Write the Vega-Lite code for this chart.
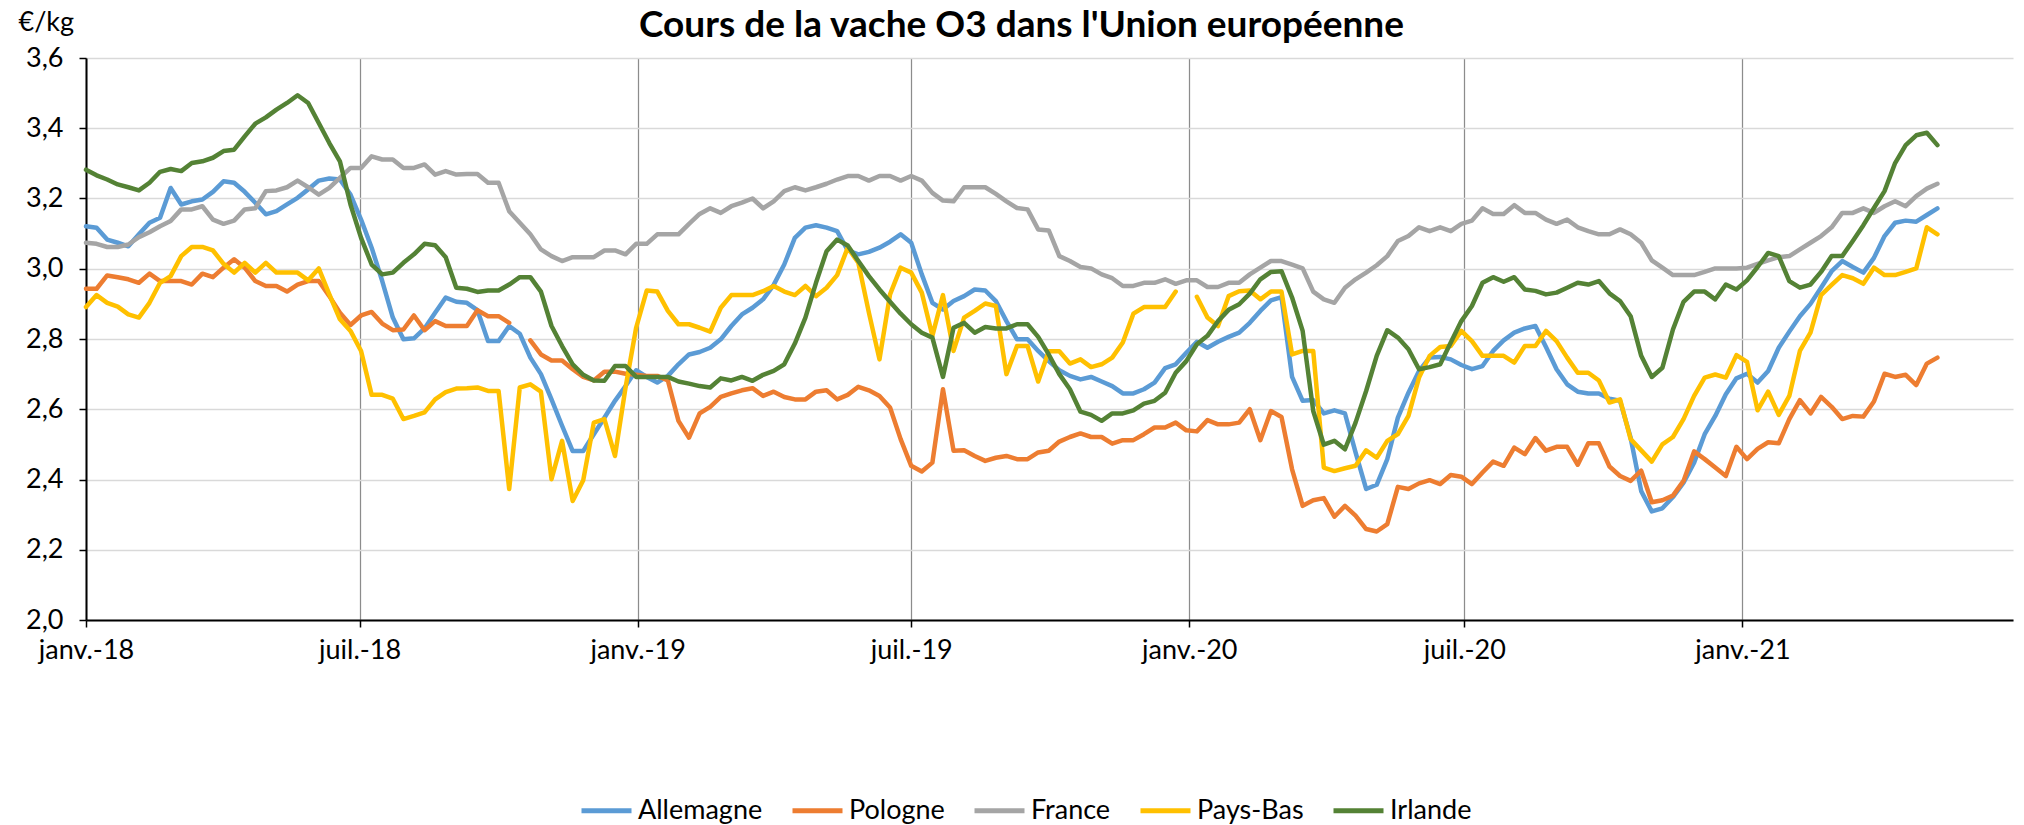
{
"$schema": "https://vega.github.io/schema/vega-lite/v6.json",
"width": 1927, "height": 562,
"autosize": {"type": "none"},
"padding": {"left": 86, "top": 58, "right": 11, "bottom": 205},
"background": "white",
"title": {"text": "Cours de la vache O3 dans l'Union européenne", "font": "Lato", "fontSize": 37, "fontWeight": "bold", "color": "#000000", "anchor": "middle", "frame": "group", "dx": -28, "dy": 41},
"data": {"values": [
{"d":"2018-01-01","Allemagne":3.121,"Pologne":2.943,"France":3.074,"Pays-Bas":2.891,"Irlande":3.282},
{"d":"2018-01-08","Allemagne":3.117,"Pologne":2.943,"France":3.071,"Pays-Bas":2.925,"Irlande":3.266},
{"d":"2018-01-15","Allemagne":3.083,"Pologne":2.981,"France":3.062,"Pays-Bas":2.903,"Irlande":3.254},
{"d":"2018-01-22","Allemagne":3.074,"Pologne":2.976,"France":3.062,"Pays-Bas":2.892,"Irlande":3.240},
{"d":"2018-01-29","Allemagne":3.064,"Pologne":2.970,"France":3.069,"Pays-Bas":2.870,"Irlande":3.232},
{"d":"2018-02-05","Allemagne":3.098,"Pologne":2.960,"France":3.090,"Pays-Bas":2.861,"Irlande":3.223},
{"d":"2018-02-12","Allemagne":3.131,"Pologne":2.986,"France":3.104,"Pays-Bas":2.903,"Irlande":3.245},
{"d":"2018-02-19","Allemagne":3.145,"Pologne":2.965,"France":3.121,"Pays-Bas":2.960,"Irlande":3.276},
{"d":"2018-02-26","Allemagne":3.230,"Pologne":2.965,"France":3.136,"Pays-Bas":2.979,"Irlande":3.284},
{"d":"2018-03-05","Allemagne":3.183,"Pologne":2.965,"France":3.169,"Pays-Bas":3.036,"Irlande":3.278},
{"d":"2018-03-12","Allemagne":3.192,"Pologne":2.955,"France":3.169,"Pays-Bas":3.062,"Irlande":3.301},
{"d":"2018-03-19","Allemagne":3.197,"Pologne":2.986,"France":3.178,"Pays-Bas":3.062,"Irlande":3.306},
{"d":"2018-03-26","Allemagne":3.219,"Pologne":2.976,"France":3.140,"Pays-Bas":3.052,"Irlande":3.316},
{"d":"2018-04-02","Allemagne":3.249,"Pologne":3.003,"France":3.128,"Pays-Bas":3.014,"Irlande":3.335},
{"d":"2018-04-09","Allemagne":3.245,"Pologne":3.027,"France":3.137,"Pays-Bas":2.989,"Irlande":3.339},
{"d":"2018-04-16","Allemagne":3.219,"Pologne":3.003,"France":3.169,"Pays-Bas":3.017,"Irlande":3.377},
{"d":"2018-04-23","Allemagne":3.188,"Pologne":2.965,"France":3.172,"Pays-Bas":2.989,"Irlande":3.413},
{"d":"2018-04-30","Allemagne":3.155,"Pologne":2.951,"France":3.221,"Pays-Bas":3.017,"Irlande":3.431},
{"d":"2018-05-07","Allemagne":3.164,"Pologne":2.951,"France":3.223,"Pays-Bas":2.989,"Irlande":3.453},
{"d":"2018-05-14","Allemagne":3.183,"Pologne":2.935,"France":3.232,"Pays-Bas":2.989,"Irlande":3.472},
{"d":"2018-05-21","Allemagne":3.202,"Pologne":2.955,"France":3.251,"Pays-Bas":2.989,"Irlande":3.494},
{"d":"2018-05-28","Allemagne":3.226,"Pologne":2.965,"France":3.232,"Pays-Bas":2.967,"Irlande":3.472},
{"d":"2018-06-04","Allemagne":3.251,"Pologne":2.965,"France":3.211,"Pays-Bas":3.001,"Irlande":3.415},
{"d":"2018-06-11","Allemagne":3.257,"Pologne":2.922,"France":3.230,"Pays-Bas":2.927,"Irlande":3.358},
{"d":"2018-06-18","Allemagne":3.254,"Pologne":2.875,"France":3.259,"Pays-Bas":2.856,"Irlande":3.306},
{"d":"2018-06-25","Allemagne":3.211,"Pologne":2.840,"France":3.287,"Pays-Bas":2.823,"Irlande":3.183},
{"d":"2018-07-02","Allemagne":3.140,"Pologne":2.867,"France":3.287,"Pays-Bas":2.766,"Irlande":3.088},
{"d":"2018-07-09","Allemagne":3.060,"Pologne":2.877,"France":3.320,"Pays-Bas":2.641,"Irlande":3.012},
{"d":"2018-07-16","Allemagne":2.965,"Pologne":2.844,"France":3.311,"Pays-Bas":2.641,"Irlande":2.984},
{"d":"2018-07-23","Allemagne":2.861,"Pologne":2.825,"France":3.311,"Pays-Bas":2.630,"Irlande":2.989},
{"d":"2018-07-30","Allemagne":2.799,"Pologne":2.827,"France":3.287,"Pays-Bas":2.572,"Irlande":3.017},
{"d":"2018-08-06","Allemagne":2.802,"Pologne":2.867,"France":3.287,"Pays-Bas":2.581,"Irlande":3.041},
{"d":"2018-08-13","Allemagne":2.830,"Pologne":2.825,"France":3.297,"Pays-Bas":2.591,"Irlande":3.071},
{"d":"2018-08-20","Allemagne":2.875,"Pologne":2.851,"France":3.268,"Pays-Bas":2.628,"Irlande":3.067},
{"d":"2018-08-27","Allemagne":2.918,"Pologne":2.837,"France":3.278,"Pays-Bas":2.649,"Irlande":3.033},
{"d":"2018-09-03","Allemagne":2.906,"Pologne":2.837,"France":3.268,"Pays-Bas":2.659,"Irlande":2.946},
{"d":"2018-09-10","Allemagne":2.903,"Pologne":2.837,"France":3.270,"Pays-Bas":2.660,"Irlande":2.943},
{"d":"2018-09-17","Allemagne":2.882,"Pologne":2.882,"France":3.270,"Pays-Bas":2.662,"Irlande":2.934},
{"d":"2018-09-24","Allemagne":2.794,"Pologne":2.865,"France":3.245,"Pays-Bas":2.652,"Irlande":2.938},
{"d":"2018-10-01","Allemagne":2.794,"Pologne":2.865,"France":3.245,"Pays-Bas":2.652,"Irlande":2.938},
{"d":"2018-10-08","Allemagne":2.837,"Pologne":2.846,"France":3.164,"Pays-Bas":2.373,"Irlande":2.955},
{"d":"2018-10-15","Allemagne":2.815,"Pologne":null,"France":3.131,"Pays-Bas":2.662,"Irlande":2.976},
{"d":"2018-10-22","Allemagne":2.747,"Pologne":2.796,"France":3.098,"Pays-Bas":2.671,"Irlande":2.976},
{"d":"2018-10-29","Allemagne":2.700,"Pologne":2.756,"France":3.055,"Pays-Bas":2.650,"Irlande":2.935},
{"d":"2018-11-05","Allemagne":2.628,"Pologne":2.739,"France":3.036,"Pays-Bas":2.401,"Irlande":2.837},
{"d":"2018-11-12","Allemagne":2.553,"Pologne":2.739,"France":3.022,"Pays-Bas":2.510,"Irlande":2.780},
{"d":"2018-11-19","Allemagne":2.481,"Pologne":2.714,"France":3.033,"Pays-Bas":2.339,"Irlande":2.728},
{"d":"2018-11-26","Allemagne":2.481,"Pologne":2.692,"France":3.033,"Pays-Bas":2.398,"Irlande":2.698},
{"d":"2018-12-03","Allemagne":2.529,"Pologne":2.682,"France":3.033,"Pays-Bas":2.562,"Irlande":2.682},
{"d":"2018-12-10","Allemagne":2.576,"Pologne":2.707,"France":3.052,"Pays-Bas":2.572,"Irlande":2.681},
{"d":"2018-12-17","Allemagne":2.624,"Pologne":2.707,"France":3.052,"Pays-Bas":2.467,"Irlande":2.723},
{"d":"2018-12-24","Allemagne":2.666,"Pologne":2.701,"France":3.041,"Pays-Bas":2.662,"Irlande":2.723},
{"d":"2018-12-31","Allemagne":2.711,"Pologne":2.698,"France":3.071,"Pays-Bas":2.832,"Irlande":2.692},
{"d":"2019-01-07","Allemagne":2.692,"Pologne":2.695,"France":3.071,"Pays-Bas":2.938,"Irlande":2.692},
{"d":"2019-01-14","Allemagne":2.676,"Pologne":2.695,"France":3.098,"Pays-Bas":2.935,"Irlande":2.692},
{"d":"2019-01-21","Allemagne":2.695,"Pologne":2.682,"France":3.098,"Pays-Bas":2.880,"Irlande":2.692},
{"d":"2019-01-28","Allemagne":2.728,"Pologne":2.567,"France":3.098,"Pays-Bas":2.842,"Irlande":2.679},
{"d":"2019-02-04","Allemagne":2.756,"Pologne":2.519,"France":3.128,"Pays-Bas":2.842,"Irlande":2.673},
{"d":"2019-02-11","Allemagne":2.763,"Pologne":2.588,"France":3.156,"Pays-Bas":2.832,"Irlande":2.666},
{"d":"2019-02-18","Allemagne":2.775,"Pologne":2.607,"France":3.172,"Pays-Bas":2.821,"Irlande":2.662},
{"d":"2019-02-25","Allemagne":2.799,"Pologne":2.635,"France":3.159,"Pays-Bas":2.889,"Irlande":2.688},
{"d":"2019-03-04","Allemagne":2.837,"Pologne":2.645,"France":3.178,"Pays-Bas":2.925,"Irlande":2.682},
{"d":"2019-03-11","Allemagne":2.870,"Pologne":2.654,"France":3.188,"Pays-Bas":2.925,"Irlande":2.692},
{"d":"2019-03-18","Allemagne":2.889,"Pologne":2.660,"France":3.200,"Pays-Bas":2.925,"Irlande":2.681},
{"d":"2019-03-25","Allemagne":2.913,"Pologne":2.638,"France":3.172,"Pays-Bas":2.936,"Irlande":2.698},
{"d":"2019-04-01","Allemagne":2.954,"Pologne":2.650,"France":3.192,"Pays-Bas":2.951,"Irlande":2.709},
{"d":"2019-04-08","Allemagne":3.012,"Pologne":2.635,"France":3.221,"Pays-Bas":2.935,"Irlande":2.728},
{"d":"2019-04-15","Allemagne":3.088,"Pologne":2.628,"France":3.232,"Pays-Bas":2.925,"Irlande":2.787},
{"d":"2019-04-22","Allemagne":3.117,"Pologne":2.628,"France":3.223,"Pays-Bas":2.951,"Irlande":2.861},
{"d":"2019-04-29","Allemagne":3.124,"Pologne":2.650,"France":3.232,"Pays-Bas":2.922,"Irlande":2.960},
{"d":"2019-05-06","Allemagne":3.117,"Pologne":2.654,"France":3.242,"Pays-Bas":2.946,"Irlande":3.050},
{"d":"2019-05-13","Allemagne":3.107,"Pologne":2.628,"France":3.254,"Pays-Bas":2.982,"Irlande":3.083},
{"d":"2019-05-20","Allemagne":3.052,"Pologne":2.641,"France":3.264,"Pays-Bas":3.060,"Irlande":3.066},
{"d":"2019-05-27","Allemagne":3.041,"Pologne":2.664,"France":3.264,"Pays-Bas":3.017,"Irlande":3.022},
{"d":"2019-06-03","Allemagne":3.048,"Pologne":2.654,"France":3.251,"Pays-Bas":2.875,"Irlande":2.979},
{"d":"2019-06-10","Allemagne":3.060,"Pologne":2.638,"France":3.264,"Pays-Bas":2.742,"Irlande":2.941},
{"d":"2019-06-17","Allemagne":3.077,"Pologne":2.605,"France":3.264,"Pays-Bas":2.927,"Irlande":2.906},
{"d":"2019-06-24","Allemagne":3.098,"Pologne":2.515,"France":3.251,"Pays-Bas":3.003,"Irlande":2.872},
{"d":"2019-07-01","Allemagne":3.074,"Pologne":2.439,"France":3.264,"Pays-Bas":2.989,"Irlande":2.842},
{"d":"2019-07-08","Allemagne":2.984,"Pologne":2.423,"France":3.251,"Pays-Bas":2.932,"Irlande":2.818},
{"d":"2019-07-15","Allemagne":2.903,"Pologne":2.448,"France":3.216,"Pays-Bas":2.809,"Irlande":2.804},
{"d":"2019-07-22","Allemagne":2.884,"Pologne":2.657,"France":3.194,"Pays-Bas":2.925,"Irlande":2.692},
{"d":"2019-07-29","Allemagne":2.908,"Pologne":2.482,"France":3.192,"Pays-Bas":2.766,"Irlande":2.832},
{"d":"2019-08-05","Allemagne":2.922,"Pologne":2.483,"France":3.232,"Pays-Bas":2.861,"Irlande":2.846},
{"d":"2019-08-12","Allemagne":2.941,"Pologne":2.467,"France":3.232,"Pays-Bas":2.880,"Irlande":2.818},
{"d":"2019-08-19","Allemagne":2.938,"Pologne":2.453,"France":3.232,"Pays-Bas":2.901,"Irlande":2.834},
{"d":"2019-08-26","Allemagne":2.908,"Pologne":2.462,"France":3.213,"Pays-Bas":2.894,"Irlande":2.830},
{"d":"2019-09-02","Allemagne":2.851,"Pologne":2.467,"France":3.192,"Pays-Bas":2.700,"Irlande":2.830},
{"d":"2019-09-09","Allemagne":2.799,"Pologne":2.458,"France":3.173,"Pays-Bas":2.780,"Irlande":2.842},
{"d":"2019-09-16","Allemagne":2.799,"Pologne":2.458,"France":3.169,"Pays-Bas":2.780,"Irlande":2.842},
{"d":"2019-09-23","Allemagne":2.766,"Pologne":2.477,"France":3.112,"Pays-Bas":2.679,"Irlande":2.806},
{"d":"2019-09-30","Allemagne":2.737,"Pologne":2.482,"France":3.109,"Pays-Bas":2.765,"Irlande":2.756},
{"d":"2019-10-07","Allemagne":2.711,"Pologne":2.508,"France":3.036,"Pays-Bas":2.765,"Irlande":2.700},
{"d":"2019-10-14","Allemagne":2.695,"Pologne":2.521,"France":3.022,"Pays-Bas":2.730,"Irlande":2.657},
{"d":"2019-10-21","Allemagne":2.685,"Pologne":2.531,"France":3.005,"Pays-Bas":2.742,"Irlande":2.593},
{"d":"2019-10-28","Allemagne":2.692,"Pologne":2.521,"France":3.001,"Pays-Bas":2.720,"Irlande":2.584},
{"d":"2019-11-04","Allemagne":2.679,"Pologne":2.521,"France":2.984,"Pays-Bas":2.728,"Irlande":2.567},
{"d":"2019-11-11","Allemagne":2.666,"Pologne":2.502,"France":2.973,"Pays-Bas":2.747,"Irlande":2.588},
{"d":"2019-11-18","Allemagne":2.645,"Pologne":2.512,"France":2.951,"Pays-Bas":2.790,"Irlande":2.588},
{"d":"2019-11-25","Allemagne":2.645,"Pologne":2.512,"France":2.951,"Pays-Bas":2.872,"Irlande":2.597},
{"d":"2019-12-02","Allemagne":2.657,"Pologne":2.529,"France":2.960,"Pays-Bas":2.891,"Irlande":2.616},
{"d":"2019-12-09","Allemagne":2.676,"Pologne":2.548,"France":2.960,"Pays-Bas":2.891,"Irlande":2.624},
{"d":"2019-12-16","Allemagne":2.717,"Pologne":2.548,"France":2.970,"Pays-Bas":2.891,"Irlande":2.647},
{"d":"2019-12-23","Allemagne":2.728,"Pologne":2.562,"France":2.957,"Pays-Bas":2.935,"Irlande":2.704},
{"d":"2019-12-30","Allemagne":2.761,"Pologne":2.540,"France":2.967,"Pays-Bas":null,"Irlande":2.737},
{"d":"2020-01-06","Allemagne":2.792,"Pologne":2.537,"France":2.967,"Pays-Bas":2.920,"Irlande":2.785},
{"d":"2020-01-13","Allemagne":2.775,"Pologne":2.569,"France":2.948,"Pays-Bas":2.861,"Irlande":2.809},
{"d":"2020-01-20","Allemagne":2.792,"Pologne":2.557,"France":2.948,"Pays-Bas":2.837,"Irlande":2.851},
{"d":"2020-01-27","Allemagne":2.806,"Pologne":2.557,"France":2.960,"Pays-Bas":2.922,"Irlande":2.883},
{"d":"2020-02-03","Allemagne":2.818,"Pologne":2.562,"France":2.960,"Pays-Bas":2.936,"Irlande":2.899},
{"d":"2020-02-10","Allemagne":2.846,"Pologne":2.600,"France":2.984,"Pays-Bas":2.938,"Irlande":2.929},
{"d":"2020-02-17","Allemagne":2.880,"Pologne":2.512,"France":3.003,"Pays-Bas":2.913,"Irlande":2.970},
{"d":"2020-02-24","Allemagne":2.910,"Pologne":2.595,"France":3.022,"Pays-Bas":2.935,"Irlande":2.991},
{"d":"2020-03-02","Allemagne":2.919,"Pologne":2.578,"France":3.022,"Pays-Bas":2.935,"Irlande":2.993},
{"d":"2020-03-09","Allemagne":2.692,"Pologne":2.429,"France":3.012,"Pays-Bas":2.756,"Irlande":2.918},
{"d":"2020-03-16","Allemagne":2.624,"Pologne":2.325,"France":3.001,"Pays-Bas":2.766,"Irlande":2.823},
{"d":"2020-03-23","Allemagne":2.626,"Pologne":2.341,"France":2.935,"Pays-Bas":2.766,"Irlande":2.595},
{"d":"2020-03-30","Allemagne":2.588,"Pologne":2.347,"France":2.913,"Pays-Bas":2.434,"Irlande":2.499},
{"d":"2020-04-06","Allemagne":2.597,"Pologne":2.294,"France":2.903,"Pays-Bas":2.424,"Irlande":2.510},
{"d":"2020-04-13","Allemagne":2.588,"Pologne":2.325,"France":2.946,"Pays-Bas":2.432,"Irlande":2.486},
{"d":"2020-04-20","Allemagne":2.477,"Pologne":2.297,"France":2.970,"Pays-Bas":2.439,"Irlande":2.562},
{"d":"2020-04-27","Allemagne":2.373,"Pologne":2.259,"France":2.989,"Pays-Bas":2.483,"Irlande":2.652},
{"d":"2020-05-04","Allemagne":2.385,"Pologne":2.252,"France":3.010,"Pays-Bas":2.462,"Irlande":2.752},
{"d":"2020-05-11","Allemagne":2.458,"Pologne":2.273,"France":3.036,"Pays-Bas":2.510,"Irlande":2.825},
{"d":"2020-05-18","Allemagne":2.576,"Pologne":2.379,"France":3.079,"Pays-Bas":2.529,"Irlande":2.804},
{"d":"2020-05-25","Allemagne":2.647,"Pologne":2.373,"France":3.093,"Pays-Bas":2.581,"Irlande":2.771},
{"d":"2020-06-01","Allemagne":2.709,"Pologne":2.389,"France":3.118,"Pays-Bas":2.690,"Irlande":2.714},
{"d":"2020-06-08","Allemagne":2.747,"Pologne":2.398,"France":3.107,"Pays-Bas":2.752,"Irlande":2.720},
{"d":"2020-06-15","Allemagne":2.749,"Pologne":2.387,"France":3.118,"Pays-Bas":2.777,"Irlande":2.728},
{"d":"2020-06-22","Allemagne":2.742,"Pologne":2.413,"France":3.107,"Pays-Bas":2.780,"Irlande":2.790},
{"d":"2020-06-29","Allemagne":2.726,"Pologne":2.408,"France":3.128,"Pays-Bas":2.823,"Irlande":2.851},
{"d":"2020-07-06","Allemagne":2.714,"Pologne":2.387,"France":3.137,"Pays-Bas":2.794,"Irlande":2.894},
{"d":"2020-07-13","Allemagne":2.723,"Pologne":2.420,"France":3.172,"Pays-Bas":2.752,"Irlande":2.960},
{"d":"2020-07-20","Allemagne":2.766,"Pologne":2.451,"France":3.156,"Pays-Bas":2.752,"Irlande":2.976},
{"d":"2020-07-27","Allemagne":2.796,"Pologne":2.439,"France":3.156,"Pays-Bas":2.752,"Irlande":2.963},
{"d":"2020-08-03","Allemagne":2.818,"Pologne":2.491,"France":3.181,"Pays-Bas":2.733,"Irlande":2.976},
{"d":"2020-08-10","Allemagne":2.830,"Pologne":2.472,"France":3.159,"Pays-Bas":2.780,"Irlande":2.941},
{"d":"2020-08-17","Allemagne":2.837,"Pologne":2.518,"France":3.159,"Pays-Bas":2.780,"Irlande":2.937},
{"d":"2020-08-24","Allemagne":2.777,"Pologne":2.482,"France":3.140,"Pays-Bas":2.823,"Irlande":2.927},
{"d":"2020-08-31","Allemagne":2.714,"Pologne":2.493,"France":3.128,"Pays-Bas":2.794,"Irlande":2.932},
{"d":"2020-09-07","Allemagne":2.671,"Pologne":2.493,"France":3.140,"Pays-Bas":2.747,"Irlande":2.946},
{"d":"2020-09-14","Allemagne":2.650,"Pologne":2.442,"France":3.118,"Pays-Bas":2.704,"Irlande":2.960},
{"d":"2020-09-21","Allemagne":2.645,"Pologne":2.503,"France":3.107,"Pays-Bas":2.704,"Irlande":2.955},
{"d":"2020-09-28","Allemagne":2.645,"Pologne":2.503,"France":3.098,"Pays-Bas":2.682,"Irlande":2.965},
{"d":"2020-10-05","Allemagne":2.630,"Pologne":2.437,"France":3.098,"Pays-Bas":2.619,"Irlande":2.930},
{"d":"2020-10-12","Allemagne":2.624,"Pologne":2.410,"France":3.112,"Pays-Bas":2.628,"Irlande":2.908},
{"d":"2020-10-19","Allemagne":2.519,"Pologne":2.396,"France":3.098,"Pays-Bas":2.515,"Irlande":2.865},
{"d":"2020-10-26","Allemagne":2.367,"Pologne":2.425,"France":3.074,"Pays-Bas":2.483,"Irlande":2.752},
{"d":"2020-11-02","Allemagne":2.309,"Pologne":2.335,"France":3.024,"Pays-Bas":2.451,"Irlande":2.692},
{"d":"2020-11-09","Allemagne":2.318,"Pologne":2.341,"France":3.003,"Pays-Bas":2.500,"Irlande":2.718},
{"d":"2020-11-16","Allemagne":2.350,"Pologne":2.354,"France":2.982,"Pays-Bas":2.521,"Irlande":2.827},
{"d":"2020-11-23","Allemagne":2.391,"Pologne":2.396,"France":2.982,"Pays-Bas":2.572,"Irlande":2.906},
{"d":"2020-11-30","Allemagne":2.448,"Pologne":2.480,"France":2.982,"Pays-Bas":2.638,"Irlande":2.935},
{"d":"2020-12-07","Allemagne":2.529,"Pologne":2.458,"France":2.991,"Pays-Bas":2.690,"Irlande":2.935},
{"d":"2020-12-14","Allemagne":2.581,"Pologne":2.434,"France":3.001,"Pays-Bas":2.699,"Irlande":2.913},
{"d":"2020-12-21","Allemagne":2.643,"Pologne":2.410,"France":3.001,"Pays-Bas":2.690,"Irlande":2.955},
{"d":"2020-12-28","Allemagne":2.688,"Pologne":2.493,"France":3.001,"Pays-Bas":2.754,"Irlande":2.941},
{"d":"2021-01-04","Allemagne":2.701,"Pologne":2.458,"France":3.003,"Pays-Bas":2.735,"Irlande":2.967},
{"d":"2021-01-11","Allemagne":2.676,"Pologne":2.487,"France":3.014,"Pays-Bas":2.597,"Irlande":3.005},
{"d":"2021-01-18","Allemagne":2.709,"Pologne":2.506,"France":3.024,"Pays-Bas":2.650,"Irlande":3.045},
{"d":"2021-01-25","Allemagne":2.775,"Pologne":2.503,"France":3.033,"Pays-Bas":2.584,"Irlande":3.036},
{"d":"2021-02-01","Allemagne":2.821,"Pologne":2.572,"France":3.036,"Pays-Bas":2.638,"Irlande":2.965},
{"d":"2021-02-08","Allemagne":2.865,"Pologne":2.626,"France":3.055,"Pays-Bas":2.766,"Irlande":2.946},
{"d":"2021-02-15","Allemagne":2.900,"Pologne":2.588,"France":3.074,"Pays-Bas":2.818,"Irlande":2.955},
{"d":"2021-02-22","Allemagne":2.946,"Pologne":2.635,"France":3.093,"Pays-Bas":2.925,"Irlande":2.991},
{"d":"2021-03-01","Allemagne":2.993,"Pologne":2.607,"France":3.118,"Pays-Bas":2.954,"Irlande":3.036},
{"d":"2021-03-08","Allemagne":3.022,"Pologne":2.572,"France":3.159,"Pays-Bas":2.982,"Irlande":3.036},
{"d":"2021-03-15","Allemagne":3.005,"Pologne":2.581,"France":3.159,"Pays-Bas":2.973,"Irlande":3.079},
{"d":"2021-03-22","Allemagne":2.989,"Pologne":2.579,"France":3.172,"Pays-Bas":2.957,"Irlande":3.124},
{"d":"2021-03-29","Allemagne":3.031,"Pologne":2.622,"France":3.159,"Pays-Bas":3.003,"Irlande":3.173},
{"d":"2021-04-05","Allemagne":3.093,"Pologne":2.701,"France":3.178,"Pays-Bas":2.982,"Irlande":3.221},
{"d":"2021-04-12","Allemagne":3.131,"Pologne":2.692,"France":3.192,"Pays-Bas":2.982,"Irlande":3.301},
{"d":"2021-04-19","Allemagne":3.137,"Pologne":2.698,"France":3.178,"Pays-Bas":2.991,"Irlande":3.352},
{"d":"2021-04-26","Allemagne":3.134,"Pologne":2.669,"France":3.207,"Pays-Bas":3.001,"Irlande":3.380},
{"d":"2021-05-03","Allemagne":3.153,"Pologne":2.730,"France":3.228,"Pays-Bas":3.118,"Irlande":3.387},
{"d":"2021-05-10","Allemagne":3.172,"Pologne":2.747,"France":3.242,"Pays-Bas":3.098,"Irlande":3.352}
]},
"transform": [{"fold": ["Allemagne", "Pologne", "France", "Pays-Bas", "Irlande"], "as": ["pays", "prix"]}],
"mark": {"type": "line", "strokeWidth": 4.5, "strokeJoin": "round", "strokeCap": "round", "invalid": "break-paths-filter-domains"},
"encoding": {
  "x": {"field": "d", "type": "temporal",
    "scale": {"type": "utc", "domain": [{"year": 2018, "month": 1, "date": 1, "utc": true}, {"year": 2021, "month": 6, "date": 29, "utc": true}]},
    "axis": {"title": null,
      "values": [{"year": 2018, "month": 1, "date": 1, "utc": true}, {"year": 2018, "month": 7, "date": 1, "utc": true}, {"year": 2019, "month": 1, "date": 1, "utc": true}, {"year": 2019, "month": 7, "date": 1, "utc": true}, {"year": 2020, "month": 1, "date": 1, "utc": true}, {"year": 2020, "month": 7, "date": 1, "utc": true}, {"year": 2021, "month": 1, "date": 1, "utc": true}],
      "labelExpr": "(utcmonth(datum.value) == 0 ? 'janv.-' : 'juil.-') + utcFormat(datum.value, '%y')",
      "labelFont": "Lato", "labelFontSize": 27, "labelColor": "#000000", "labelAngle": 0, "labelFlush": false, "labelOverlap": false, "labelPadding": 10,
      "grid": true, "gridColor": "#8c8c8c", "gridWidth": 1.25,
      "domainColor": "#000000", "domainWidth": 2, "tickColor": "#000000", "tickWidth": 1.5, "tickSize": 7}},
  "y": {"field": "prix", "type": "quantitative",
    "scale": {"domain": [2, 3.6], "nice": false, "zero": false},
    "axis": {"values": [2, 2.2, 2.4, 2.6, 2.8, 3, 3.2, 3.4, 3.6],
      "labelExpr": "replace(format(datum.value, '.1f'), '.', ',')",
      "labelFont": "Lato", "labelFontSize": 27, "labelColor": "#000000", "labelPadding": 16,
      "title": "€/kg", "titleAngle": 0, "titleX": -68, "titleY": -28, "titleAlign": "left", "titleBaseline": "alphabetic", "titleFont": "Lato", "titleFontSize": 27, "titleFontWeight": "normal", "titleColor": "#000000",
      "grid": true, "gridColor": "#d9d9d9", "gridWidth": 1.5,
      "domainColor": "#000000", "domainWidth": 2, "tickColor": "#000000", "tickWidth": 1.5, "tickSize": 7}},
  "color": {"field": "pays", "type": "nominal",
    "scale": {"domain": ["Allemagne", "Pologne", "France", "Pays-Bas", "Irlande"], "range": ["#5B9BD5", "#ED7D31", "#A5A5A5", "#FFC000", "#548235"]},
    "legend": {"orient": "none", "direction": "horizontal", "legendX": 493, "legendY": 725, "title": null, "padding": 0,
      "symbolType": "stroke", "symbolStrokeWidth": 5, "symbolSize": 2500, "labelFont": "Lato", "labelFontSize": 27, "labelColor": "#000000", "labelOffset": 4, "columnPadding": 19}}
},
"config": {"view": {"stroke": null}, "font": "Lato"}
}
